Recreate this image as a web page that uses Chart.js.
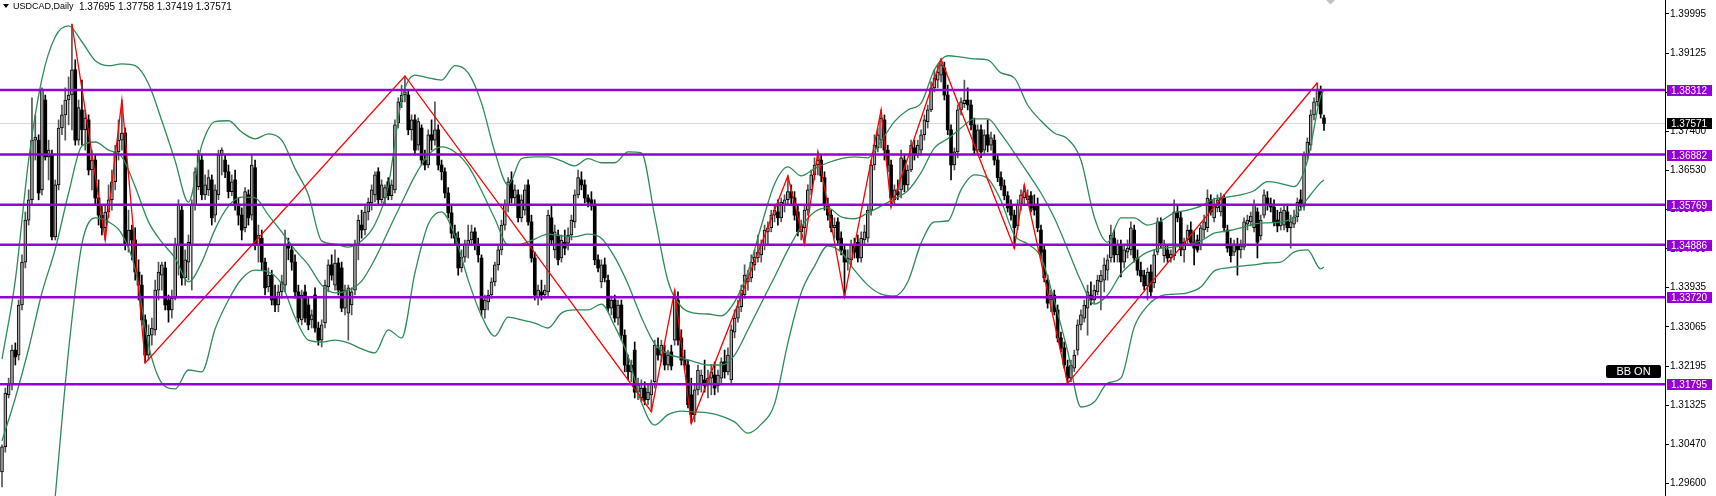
<!DOCTYPE html>
<html>
<head>
<meta charset="utf-8">
<script src="https://cdn.jsdelivr.net/npm/chart.js@4.4.0/dist/chart.umd.min.js"></script>
<style>
  html, body { margin: 0; padding: 0; background: #fff; }
</style>
</head>
<body>
<canvas id="chart" width="1716" height="496"></canvas>
<script>
// USDCAD daily candles
const opens = [
  1.2985,1.3041,1.3156,1.3178,1.3255,1.3244,1.3355,1.3450,1.3543,1.3588,
  1.3720,1.3720,1.3610,1.3809,1.3683,1.3687,1.3506,1.3621,1.3747,1.3776,
  1.3809,1.3820,1.3876,1.3720,1.3787,1.3743,1.3765,1.3654,1.3676,1.3592,
  1.3554,1.3526,1.3561,1.3588,1.3628,1.3694,1.3720,1.3736,1.3488,1.3521,
  1.3499,1.3428,1.3399,1.3322,1.3244,1.3288,1.3300,1.3388,1.3421,1.3437,
  1.3366,1.3344,1.3370,1.3488,1.3565,1.3415,1.3450,1.3488,1.3576,1.3617,
  1.3676,1.3599,1.3610,1.3632,1.3554,1.3599,1.3687,1.3676,1.3650,1.3606,
  1.3632,1.3576,1.3554,1.3526,1.3599,1.3554,1.3659,1.3488,1.3503,1.3450,
  1.3395,1.3421,1.3370,1.3355,1.3384,1.3399,1.3488,1.3477,1.3450,1.3384,
  1.3322,1.3384,1.3355,1.3322,1.3377,1.3304,1.3277,1.3315,1.3395,1.3444,
  1.3399,1.3448,1.3437,1.3348,1.3337,1.3355,1.3388,1.3488,1.3532,1.3521,
  1.3561,1.3581,1.3599,1.3650,1.3588,1.3592,1.3628,1.3597,1.3610,1.3758,
  1.3805,1.3820,1.3820,1.3743,1.3765,1.3709,1.3747,1.3676,1.3665,1.3732,
  1.3720,1.3743,1.3665,1.3650,1.3603,1.3559,1.3514,1.3503,1.3437,1.3461,
  1.3488,1.3499,1.3517,1.3488,1.3459,1.3344,1.3362,1.3377,1.3406,1.3444,
  1.3477,1.3532,1.3576,1.3632,1.3592,1.3599,1.3548,1.3565,1.3621,1.3539,
  1.3459,1.3373,1.3384,1.3377,1.3384,1.3548,1.3477,1.3510,1.3459,1.3494,
  1.3492,1.3510,1.3539,1.3599,1.3632,1.3621,1.3592,1.3588,1.3574,1.3455,
  1.3406,1.3444,1.3410,1.3348,1.3366,1.3326,1.3355,1.3288,1.3222,1.3207,
  1.3255,1.3162,1.3149,1.3171,1.3145,1.3156,1.3185,1.3260,1.3244,1.3251,
  1.3222,1.3251,1.3277,1.3366,1.3282,1.3233,1.3222,1.3156,1.3112,1.3167,
  1.3178,1.3189,1.3178,1.3193,1.3200,1.3176,1.3193,1.3229,1.3207,1.3189,
  1.3295,1.3326,1.3351,1.3377,1.3406,1.3415,1.3444,1.3459,1.3466,1.3488,
  1.3517,1.3526,1.3554,1.3561,1.3548,1.3576,1.3588,1.3606,1.3592,1.3561,
  1.3517,1.3526,1.3565,1.3610,1.3643,1.3665,1.3676,1.3637,1.3576,1.3554,
  1.3526,1.3539,1.3503,1.3477,1.3450,1.3455,1.3488,1.3494,1.3459,1.3499,
  1.3503,1.3565,1.3665,1.3703,1.3720,1.3765,1.3698,1.3665,1.3588,1.3606,
  1.3610,1.3676,1.3621,1.3654,1.3703,1.3687,1.3698,1.3732,1.3761,1.3787,
  1.3836,1.3853,1.3864,1.3880,1.3820,1.3743,1.3665,1.3694,1.3787,1.3801,
  1.3809,1.3798,1.3754,1.3698,1.3743,1.3698,1.3732,1.3709,1.3720,1.3676,
  1.3637,1.3619,1.3597,1.3574,1.3554,1.3530,1.3576,1.3592,1.3588,1.3597,
  1.3576,1.3576,1.3521,1.3477,1.3410,1.3366,1.3377,1.3344,1.3282,1.3260,
  1.3218,1.3193,1.3215,1.3255,1.3311,1.3326,1.3348,1.3377,1.3366,1.3384,
  1.3406,1.3410,1.3432,1.3459,1.3503,1.3466,1.3488,1.3450,1.3472,1.3477,
  1.3521,1.3459,1.3432,1.3421,1.3397,1.3428,1.3404,1.3472,1.3539,1.3464,
  1.3477,1.3459,1.3464,1.3561,1.3548,1.3477,1.3499,1.3521,1.3494,1.3499,
  1.3486,1.3521,1.3526,1.3588,1.3548,1.3570,1.3561,1.3592,1.3521,1.3488,
  1.3472,1.3486,1.3477,1.3483,1.3534,1.3539,1.3526,1.3561,1.3508,1.3554,
  1.3592,1.3579,1.3572,1.3543,1.3530,1.3532,1.3561,1.3526,1.3534,1.3550,
  1.3588,1.3574,1.3687,1.3709,1.3776,1.3805,1.3831,1.37695
]
const highs = [
  1.3045,1.3171,1.3193,1.3266,1.3271,1.3366,1.3466,1.3561,1.3610,1.3814,
  1.3776,1.3732,1.3836,1.3820,1.3720,1.3698,1.3632,1.3765,1.3798,1.3836,
  1.3860,1.3977,1.3898,1.3809,1.3853,1.3787,1.3776,1.3698,1.3687,1.3632,
  1.3576,1.3576,1.3621,1.3654,1.3709,1.3765,1.3809,1.3747,1.3565,1.3532,
  1.3526,1.3455,1.3421,1.3333,1.3311,1.3326,1.3410,1.3450,1.3450,1.3450,
  1.3377,1.3388,1.3503,1.3588,1.3576,1.3477,1.3510,1.3588,1.3659,1.3698,
  1.3687,1.3643,1.3654,1.3643,1.3621,1.3698,1.3703,1.3687,1.3665,1.3643,
  1.3654,1.3592,1.3570,1.3615,1.3610,1.3687,1.3676,1.3532,1.3521,1.3459,
  1.3437,1.3432,1.3399,1.3399,1.3421,1.3521,1.3503,1.3488,1.3466,1.3399,
  1.3388,1.3399,1.3370,1.3344,1.3393,1.3317,1.3322,1.3410,1.3455,1.3466,
  1.3477,1.3459,1.3450,1.3399,1.3399,1.3393,1.3499,1.3554,1.3565,1.3576,
  1.3592,1.3621,1.3650,1.3659,1.3632,1.3621,1.3637,1.3632,1.3765,1.3814,
  1.3842,1.3862,1.3831,1.3776,1.3776,1.3769,1.3754,1.3698,1.3743,1.3765,
  1.3805,1.3754,1.3676,1.3659,1.3615,1.3576,1.3532,1.3517,1.3477,1.3499,
  1.3532,1.3532,1.3526,1.3503,1.3466,1.3377,1.3388,1.3415,1.3450,1.3488,
  1.3543,1.3588,1.3637,1.3650,1.3621,1.3610,1.3599,1.3621,1.3632,1.3554,
  1.3472,1.3399,1.3410,1.3399,1.3565,1.3576,1.3532,1.3521,1.3510,1.3521,
  1.3526,1.3554,1.3610,1.3654,1.3650,1.3632,1.3599,1.3606,1.3588,1.3466,
  1.3455,1.3459,1.3421,1.3375,1.3377,1.3366,1.3366,1.3300,1.3244,1.3233,
  1.3273,1.3193,1.3189,1.3185,1.3178,1.3189,1.3277,1.3282,1.3277,1.3266,
  1.3255,1.3266,1.3388,1.3384,1.3300,1.3255,1.3233,1.3193,1.3178,1.3222,
  1.3211,1.3233,1.3211,1.3222,1.3229,1.3211,1.3238,1.3255,1.3260,1.3311,
  1.3344,1.3366,1.3399,1.3444,1.3432,1.3466,1.3477,1.3510,1.3499,1.3532,
  1.3539,1.3565,1.3576,1.3588,1.3592,1.3599,1.3641,1.3621,1.3606,1.3576,
  1.3543,1.3576,1.3621,1.3654,1.3681,1.3694,1.3687,1.3650,1.3592,1.3565,
  1.3548,1.3548,1.3517,1.3488,1.3477,1.3499,1.3503,1.3510,1.3517,1.3532,
  1.3576,1.3676,1.3732,1.3747,1.3787,1.3776,1.3709,1.3676,1.3621,1.3632,
  1.3698,1.3687,1.3665,1.3720,1.3720,1.3720,1.3743,1.3776,1.3798,1.3849,
  1.3876,1.3887,1.3900,1.3893,1.3842,1.3754,1.3703,1.3798,1.3814,1.3853,
  1.3836,1.3809,1.3769,1.3754,1.3754,1.3743,1.3765,1.3738,1.3732,1.3687,
  1.3650,1.3632,1.3606,1.3588,1.3565,1.3588,1.3610,1.3621,1.3610,1.3606,
  1.3599,1.3592,1.3532,1.3488,1.3421,1.3388,1.3388,1.3355,1.3295,1.3273,
  1.3233,1.3233,1.3255,1.3322,1.3344,1.3366,1.3399,1.3406,1.3399,1.3421,
  1.3432,1.3459,1.3466,1.3532,1.3521,1.3499,1.3499,1.3488,1.3499,1.3539,
  1.3532,1.3477,1.3450,1.3432,1.3437,1.3444,1.3477,1.3548,1.3548,1.3499,
  1.3488,1.3477,1.3588,1.3576,1.3561,1.3503,1.3532,1.3539,1.3517,1.3510,
  1.3532,1.3554,1.3610,1.3599,1.3592,1.3599,1.3603,1.3599,1.3532,1.3503,
  1.3499,1.3503,1.3499,1.3548,1.3554,1.3561,1.3588,1.3570,1.3554,1.3610,
  1.3606,1.3592,1.3588,1.3565,1.3570,1.3576,1.3576,1.3554,1.3565,1.3592,
  1.3610,1.3694,1.3725,1.3787,1.3814,1.3847,1.3840,1.37758
]
const lows = [
  1.2952,1.3029,1.3149,1.3167,1.3222,1.3233,1.3344,1.3437,1.3532,1.3576,
  1.3676,1.3588,1.3599,1.3676,1.3632,1.3499,1.3499,1.3610,1.3732,1.3720,
  1.3754,1.3743,1.3709,1.3709,1.3709,1.3698,1.3643,1.3610,1.3576,1.3532,
  1.3510,1.3499,1.3548,1.3565,1.3610,1.3676,1.3698,1.3477,1.3472,1.3455,
  1.3410,1.3366,1.3311,1.3227,1.3233,1.3266,1.3288,1.3366,1.3388,1.3344,
  1.3317,1.3326,1.3366,1.3421,1.3399,1.3399,1.3410,1.3388,1.3565,1.3610,
  1.3588,1.3588,1.3597,1.3532,1.3539,1.3588,1.3643,1.3637,1.3592,1.3597,
  1.3565,1.3532,1.3499,1.3517,1.3532,1.3543,1.3477,1.3450,1.3432,1.3377,
  1.3384,1.3355,1.3340,1.3340,1.3370,1.3384,1.3455,1.3432,1.3370,1.3317,
  1.3311,1.3317,1.3300,1.3304,1.3295,1.3266,1.3262,1.3304,1.3384,1.3410,
  1.3388,1.3377,1.3340,1.3333,1.3277,1.3333,1.3377,1.3455,1.3503,1.3510,
  1.3543,1.3565,1.3583,1.3576,1.3581,1.3576,1.3588,1.3588,1.3603,1.3747,
  1.3792,1.3805,1.3732,1.3720,1.3687,1.3698,1.3665,1.3654,1.3659,1.3698,
  1.3709,1.3654,1.3632,1.3592,1.3548,1.3503,1.3488,1.3421,1.3428,1.3450,
  1.3459,1.3488,1.3477,1.3450,1.3331,1.3326,1.3344,1.3370,1.3397,1.3432,
  1.3466,1.3521,1.3561,1.3581,1.3576,1.3539,1.3539,1.3554,1.3532,1.3450,
  1.3366,1.3355,1.3366,1.3370,1.3375,1.3488,1.3459,1.3444,1.3450,1.3466,
  1.3477,1.3499,1.3526,1.3592,1.3610,1.3581,1.3572,1.3565,1.3444,1.3428,
  1.3393,1.3406,1.3340,1.3333,1.3317,1.3311,1.3277,1.3207,1.3189,1.3185,
  1.3149,1.3145,1.3140,1.3134,1.3134,1.3118,1.3171,1.3233,1.3229,1.3211,
  1.3211,1.3211,1.3266,1.3266,1.3222,1.3211,1.3127,1.3093,1.3096,1.3156,
  1.3162,1.3162,1.3149,1.3156,1.3156,1.3162,1.3178,1.3193,1.3200,1.3178,
  1.3282,1.3317,1.3340,1.3370,1.3388,1.3406,1.3432,1.3450,1.3450,1.3477,
  1.3488,1.3517,1.3539,1.3532,1.3539,1.3561,1.3576,1.3576,1.3543,1.3508,
  1.3499,1.3490,1.3554,1.3599,1.3632,1.3643,1.3628,1.3565,1.3543,1.3517,
  1.3503,1.3488,1.3466,1.3373,1.3432,1.3444,1.3459,1.3450,1.3450,1.3488,
  1.3494,1.3554,1.3654,1.3694,1.3703,1.3676,1.3650,1.3572,1.3576,1.3588,
  1.3592,1.3606,1.3610,1.3650,1.3676,1.3681,1.3687,1.3720,1.3747,1.3783,
  1.3827,1.3836,1.3849,1.3809,1.3732,1.3632,1.3654,1.3681,1.3776,1.3792,
  1.3787,1.3743,1.3687,1.3687,1.3681,1.3687,1.3694,1.3698,1.3665,1.3628,
  1.3610,1.3588,1.3561,1.3543,1.3481,1.3521,1.3565,1.3576,1.3576,1.3561,
  1.3554,1.3517,1.3459,1.3406,1.3348,1.3340,1.3333,1.3273,1.3251,1.3215,
  1.3182,1.3185,1.3207,1.3244,1.3300,1.3317,1.3288,1.3355,1.3359,1.3377,
  1.3344,1.3384,1.3410,1.3450,1.3450,1.3450,1.3417,1.3437,1.3459,1.3466,
  1.3450,1.3421,1.3406,1.3388,1.3366,1.3375,1.3393,1.3466,1.3481,1.3450,
  1.3450,1.3450,1.3455,1.3539,1.3464,1.3450,1.3490,1.3486,1.3444,1.3472,
  1.3477,1.3503,1.3517,1.3554,1.3539,1.3561,1.3552,1.3517,1.3472,1.3450,
  1.3464,1.3421,1.3459,1.3477,1.3521,1.3530,1.3517,1.3459,1.3499,1.3548,
  1.3565,1.3561,1.3530,1.3517,1.3521,1.3521,1.3517,1.3481,1.3526,1.3539,
  1.3565,1.3565,1.3676,1.3698,1.3765,1.3796,1.3769,1.37419
]
const closes = [
  1.3041,1.3160,1.3178,1.3255,1.3240,1.3355,1.3450,1.3543,1.3588,1.3720,
  1.3727,1.3603,1.3831,1.3683,1.3698,1.3506,1.3621,1.3747,1.3776,1.3809,
  1.3820,1.3876,1.3720,1.3792,1.3743,1.3769,1.3654,1.3676,1.3592,1.3554,
  1.3526,1.3561,1.3588,1.3628,1.3694,1.3720,1.3736,1.3488,1.3521,1.3499,
  1.3428,1.3399,1.3322,1.3244,1.3288,1.3304,1.3388,1.3428,1.3444,1.3355,
  1.3344,1.3370,1.3488,1.3576,1.3415,1.3455,1.3494,1.3576,1.3650,1.3687,
  1.3599,1.3621,1.3637,1.3548,1.3610,1.3687,1.3698,1.3650,1.3606,1.3628,
  1.3576,1.3554,1.3521,1.3606,1.3548,1.3665,1.3488,1.3510,1.3450,1.3393,
  1.3421,1.3366,1.3355,1.3384,1.3406,1.3488,1.3481,1.3450,1.3384,1.3326,
  1.3377,1.3326,1.3311,1.3333,1.3304,1.3277,1.3311,1.3399,1.3444,1.3421,
  1.3448,1.3388,1.3348,1.3388,1.3393,1.3384,1.3488,1.3543,1.3521,1.3561,
  1.3583,1.3610,1.3643,1.3588,1.3621,1.3615,1.3597,1.3621,1.3754,1.3805,
  1.3820,1.3827,1.3743,1.3765,1.3698,1.3761,1.3676,1.3665,1.3732,1.3720,
  1.3743,1.3665,1.3650,1.3603,1.3559,1.3514,1.3503,1.3437,1.3461,1.3488,
  1.3499,1.3517,1.3488,1.3466,1.3344,1.3366,1.3377,1.3406,1.3444,1.3477,
  1.3532,1.3576,1.3628,1.3592,1.3610,1.3548,1.3588,1.3610,1.3539,1.3459,
  1.3377,1.3388,1.3377,1.3388,1.3554,1.3499,1.3517,1.3455,1.3499,1.3481,
  1.3510,1.3543,1.3599,1.3637,1.3621,1.3592,1.3583,1.3574,1.3455,1.3437,
  1.3444,1.3415,1.3348,1.3366,1.3326,1.3355,1.3288,1.3222,1.3207,1.3222,
  1.3162,1.3178,1.3171,1.3145,1.3162,1.3182,1.3266,1.3244,1.3266,1.3222,
  1.3244,1.3220,1.3370,1.3277,1.3233,1.3222,1.3134,1.3112,1.3167,1.3211,
  1.3200,1.3176,1.3193,1.3207,1.3171,1.3200,1.3229,1.3207,1.3244,1.3300,
  1.3326,1.3351,1.3388,1.3421,1.3415,1.3450,1.3461,1.3472,1.3488,1.3521,
  1.3526,1.3554,1.3565,1.3548,1.3583,1.3588,1.3606,1.3592,1.3554,1.3517,
  1.3530,1.3565,1.3610,1.3643,1.3665,1.3676,1.3641,1.3576,1.3554,1.3526,
  1.3532,1.3499,1.3477,1.3450,1.3459,1.3488,1.3472,1.3459,1.3503,1.3517,
  1.3565,1.3665,1.3709,1.3732,1.3769,1.3698,1.3665,1.3592,1.3610,1.3599,
  1.3681,1.3621,1.3654,1.3709,1.3687,1.3709,1.3732,1.3765,1.3787,1.3836,
  1.3858,1.3871,1.3887,1.3820,1.3743,1.3665,1.3694,1.3787,1.3805,1.3809,
  1.3798,1.3754,1.3698,1.3743,1.3694,1.3732,1.3709,1.3725,1.3676,1.3637,
  1.3619,1.3597,1.3570,1.3554,1.3526,1.3576,1.3599,1.3606,1.3597,1.3570,
  1.3565,1.3526,1.3472,1.3415,1.3359,1.3377,1.3340,1.3282,1.3260,1.3222,
  1.3193,1.3222,1.3244,1.3311,1.3333,1.3355,1.3384,1.3366,1.3388,1.3410,
  1.3421,1.3444,1.3455,1.3510,1.3466,1.3488,1.3450,1.3477,1.3481,1.3526,
  1.3459,1.3432,1.3419,1.3397,1.3428,1.3384,1.3466,1.3539,1.3492,1.3490,
  1.3459,1.3468,1.3561,1.3548,1.3477,1.3494,1.3521,1.3494,1.3481,1.3477,
  1.3526,1.3539,1.3592,1.3561,1.3576,1.3588,1.3592,1.3526,1.3481,1.3464,
  1.3490,1.3477,1.3486,1.3539,1.3543,1.3552,1.3576,1.3494,1.3543,1.3599,
  1.3579,1.3572,1.3539,1.3530,1.3561,1.3565,1.3526,1.3539,1.3550,1.3583,
  1.3574,1.3687,1.3716,1.3776,1.3805,1.3831,1.3778,1.37571
]

// Bollinger bands, read every 4th bar
const bbUpper = [
  1.3235,1.3410,1.3676,1.3856,1.3949,1.3973,1.3938,1.3896,1.3885,1.3889,
  1.3885,1.3845,1.3763,1.3674,1.3583,1.3709,1.3761,1.3763,1.3738,1.3723,
  1.3734,1.3720,1.3657,1.3599,1.3497,1.3490,1.3483,1.3497,1.3534,1.3619,
  1.3809,1.3864,1.3858,1.3853,1.3885,1.3869,1.3802,1.3694,1.3621,1.3679,
  1.3683,1.3683,1.3674,1.3663,1.3679,1.3670,1.3670,1.3694,1.3692,1.3552,
  1.3408,1.3351,1.3337,1.3335,1.3331,1.3362,1.3428,1.3530,1.3623,1.3661,
  1.3641,1.3657,1.3670,1.3679,1.3683,1.3681,1.3718,1.3761,1.3787,1.3802,
  1.3876,1.3907,1.3904,1.3900,1.3898,1.3869,1.3858,1.3798,1.3763,1.3736,
  1.3723,1.3676,1.3550,1.3494,1.3548,1.3548,1.3532,1.3541,1.3559,1.3565,
  1.3574,1.3590,1.3594,1.3599,1.3608,1.3628,1.3624,1.3617,1.3674,1.3818,
  1.3831
]
const bbMiddle = [
  1.3054,1.3149,1.3258,1.3382,1.3479,1.3603,1.3707,1.3716,1.3698,1.3683,
  1.3617,1.3539,1.3494,1.3459,1.3406,1.3450,1.3523,1.3574,1.3594,1.3592,
  1.3554,1.3517,1.3477,1.3444,1.3399,1.3382,1.3388,1.3408,1.3457,1.3519,
  1.3581,1.3641,1.3687,1.3705,1.3694,1.3663,1.3608,1.3546,1.3488,1.3490,
  1.3501,1.3512,1.3508,1.3506,1.3512,1.3503,1.3461,1.3401,1.3328,1.3269,
  1.3246,1.3238,1.3229,1.3222,1.3222,1.3244,1.3300,1.3359,1.3417,1.3477,
  1.3528,1.3561,1.3570,1.3550,1.3546,1.3559,1.3574,1.3590,1.3608,1.3648,
  1.3703,1.3723,1.3747,1.3767,1.3767,1.3734,1.3692,1.3648,1.3603,1.3548,
  1.3479,1.3408,1.3357,1.3377,1.3424,1.3452,1.3472,1.3481,1.3483,1.3488,
  1.3497,1.3514,1.3519,1.3526,1.3534,1.3537,1.3539,1.3550,1.3590,1.3626,
  1.3632
]
const bbLower = [
  null,null,null,null,1.2932,1.3255,1.3490,1.3548,1.3539,1.3512,
  1.3435,1.3266,1.3182,1.3169,1.3211,1.3207,1.3302,1.3366,1.3413,1.3432,
  1.3428,1.3401,1.3328,1.3277,1.3273,1.3277,1.3271,1.3258,1.3249,1.3300,
  1.3282,1.3426,1.3534,1.3561,1.3508,1.3410,1.3331,1.3286,1.3328,1.3322,
  1.3315,1.3304,1.3337,1.3344,1.3344,1.3357,1.3308,1.3242,1.3140,1.3089,
  1.3112,1.3120,1.3118,1.3116,1.3109,1.3096,1.3071,1.3091,1.3136,1.3271,
  1.3382,1.3441,1.3486,1.3472,1.3432,1.3399,1.3379,1.3375,1.3406,1.3492,
  1.3539,1.3541,1.3610,1.3643,1.3635,1.3586,1.3510,1.3490,1.3461,1.3364,
  1.3253,1.3129,1.3140,1.3182,1.3193,1.3306,1.3353,1.3375,1.3379,1.3382,
  1.3395,1.3430,1.3437,1.3441,1.3444,1.3448,1.3450,1.3472,1.3477,1.3435,
  1.3439
]
const bandIdx = bbUpper.map((v, k) => Math.min(k * 4, opens.length - 1))

// zigzag turning points (bar index, price)
const zigIdx = [21, 31, 36, 43, 121, 195, 202, 207, 236, 241, 245, 253, 264, 267, 282, 304, 307, 320, 395]
const zigPrice = [1.39773, 1.34989, 1.38090, 1.32265, 1.38622, 1.31186, 1.33866, 1.30929, 1.36407, 1.34894,
  1.36945, 1.33733, 1.37869, 1.35713, 1.38992, 1.34805, 1.36207, 1.31815, 1.38473]

const yTicks = [1.39995, 1.39125, 1.38265, 1.37400, 1.36530, 1.35660, 1.34790, 1.33935, 1.33065, 1.32195, 1.31325, 1.30470, 1.29600]
const levels = [1.38312, 1.36882, 1.35769, 1.34886, 1.33720, 1.31795]
const lastPrice = 1.37571
const ohlcText = '1.37695 1.37758 1.37419 1.37571'

const isUp = i => closes[i] >= opens[i]
const FONT = '10px "Liberation Sans", Arial, sans-serif'

function priceTag(ctx, x, py, text, bg) {
  const top = Math.round(py) - 5
  ctx.fillStyle = bg
  ctx.fillRect(x, top, 45, 11)
  ctx.fillStyle = '#fff'
  ctx.font = FONT
  ctx.textAlign = 'left'
  ctx.textBaseline = 'middle'
  ctx.fillText(text, x + 4, top + 6)
}

const overlay = {
  id: 'overlay',
  beforeDatasetsDraw(chart) {
    const { ctx, chartArea: a, scales: { y } } = chart
    const py = Math.round(y.getPixelForValue(lastPrice)) + 0.5
    ctx.save()
    ctx.strokeStyle = '#d9d9d9'
    ctx.lineWidth = 1
    ctx.beginPath()
    ctx.moveTo(a.left, py)
    ctx.lineTo(a.right, py)
    ctx.stroke()
    ctx.restore()
  },
  afterDatasetsDraw(chart) {
    const { ctx, chartArea: a, scales: { y } } = chart
    ctx.save()
    ctx.strokeStyle = '#9400d3'
    ctx.lineWidth = 2.5
    levels.forEach(v => {
      const py = y.getPixelForValue(v)
      ctx.beginPath()
      ctx.moveTo(a.left, py)
      ctx.lineTo(a.right, py)
      ctx.stroke()
    })
    ctx.restore()
  },
  afterDraw(chart) {
    const { ctx, chartArea: a, scales: { y } } = chart
    ctx.save()
    const tagX = a.right + 2
    levels.forEach(v => priceTag(ctx, tagX, y.getPixelForValue(v), v.toFixed(5), '#9400d3'))
    priceTag(ctx, tagX, y.getPixelForValue(lastPrice), lastPrice.toFixed(5), '#000')

    // title
    ctx.fillStyle = '#000'
    ctx.beginPath()
    ctx.moveTo(3, 4); ctx.lineTo(9, 4); ctx.lineTo(6, 8); ctx.closePath()
    ctx.fill()
    ctx.textBaseline = 'middle'
    ctx.textAlign = 'left'
    ctx.font = '9px "Liberation Sans", Arial, sans-serif'
    ctx.fillText('USDCAD,Daily', 13, 7)
    ctx.font = FONT
    ctx.fillText(ohlcText, 79, 7)

    // BB ON button
    ctx.fillStyle = '#000'
    ctx.beginPath()
    ctx.roundRect(1606, 365, 55, 13, 2)
    ctx.fill()
    ctx.fillStyle = '#fff'
    ctx.font = '11px "Liberation Sans", Arial, sans-serif'
    ctx.textAlign = 'center'
    ctx.fillText('BB ON', 1633.5, 372)

    // chart shift marker
    ctx.fillStyle = '#c4c4c4'
    ctx.beginPath()
    ctx.moveTo(1326, 0); ctx.lineTo(1335, 0); ctx.lineTo(1330.5, 4.5); ctx.closePath()
    ctx.fill()
    ctx.restore()
  }
}

const bandLine = (label, vals) => ({
  type: 'line',
  label,
  data: bandIdx.map((x, k) => ({ x, y: vals[k] })),
  borderColor: '#2e8b57',
  borderWidth: 1.3,
  pointRadius: 0,
  fill: false,
  cubicInterpolationMode: 'monotone',
  order: 1
})

new Chart(document.getElementById('chart'), {
  type: 'bar',
  data: {
    datasets: [
      {
        type: 'line',
        label: 'ZigZag',
        data: zigIdx.map((x, k) => ({ x, y: zigPrice[k] })),
        borderColor: '#ff0000',
        borderWidth: 1.3,
        pointRadius: 0,
        fill: false,
        order: 0
      },
      bandLine('BB upper', bbUpper),
      bandLine('BB middle', bbMiddle),
      bandLine('BB lower', bbLower),
      {
        type: 'bar',
        label: 'body',
        data: closes.map((c, i) => ({ x: i, y: [opens[i], c] })),
        backgroundColor: ctx => isUp(ctx.dataIndex) ? '#a6a6a6' : '#000',
        borderColor: '#000',
        borderWidth: ctx => isUp(ctx.dataIndex) ? 1 : 0,
        borderSkipped: false,
        barThickness: 3,
        grouped: false,
        order: 2
      },
      {
        type: 'bar',
        label: 'wick',
        data: closes.map((c, i) => ({ x: i, y: [lows[i], highs[i]] })),
        backgroundColor: ctx => isUp(ctx.dataIndex) ? '#555' : '#000',
        barThickness: 1,
        grouped: false,
        order: 3
      }
    ]
  },
  options: {
    responsive: false,
    animation: false,
    devicePixelRatio: 1,
    layout: { padding: 0 },
    plugins: { legend: { display: false }, tooltip: { enabled: false } },
    scales: {
      x: { type: 'linear', display: false, min: -0.6, max: 499.4, offset: false },
      y: {
        position: 'right',
        min: 1.29319,
        max: 1.40305,
        afterBuildTicks: s => { s.ticks = yTicks.map(v => ({ value: v })) },
        afterFit: s => { s.width = 51; s.paddingTop = 0; s.paddingBottom = 0 },
        grid: { drawOnChartArea: false, drawTicks: true, tickLength: 4, tickColor: '#000' },
        border: { display: true, color: '#000', width: 1 },
        ticks: {
          autoSkip: false,
          padding: 1,
          color: '#000',
          font: { family: '"Liberation Sans", Arial, sans-serif', size: 10 },
          callback: v => Number(v).toFixed(5)
        }
      }
    }
  },
  plugins: [overlay]
})
</script>
</body>
</html>
